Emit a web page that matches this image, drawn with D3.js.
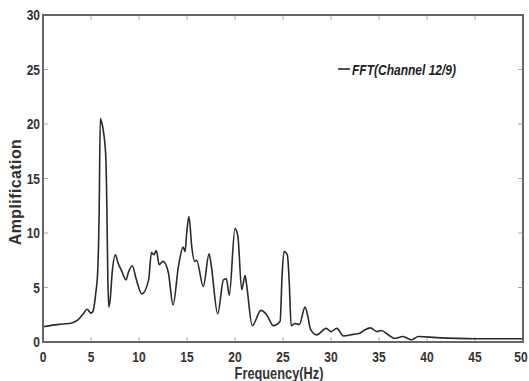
<!DOCTYPE html>
<html>
<head>
<meta charset="utf-8">
<script src="https://cdn.jsdelivr.net/npm/d3@7"></script>
<style>
  html, body { margin: 0; padding: 0; background: #fff; }
  svg { display: block; }
  .tick-label { font-family: "Liberation Sans", Arial, sans-serif; font-weight: bold; font-size: 15px; fill: #333; }
</style>
</head>
<body>
<div id="chart"></div>
<script>
// FFT spectrum, channel 12/9
const freqHz = [0, 1, 2, 3, 3.6, 4.2, 4.6, 5.0, 5.2, 5.5, 5.7, 5.85, 5.97, 6.1, 6.3, 6.55, 6.65, 6.75, 6.85, 7.0,
  7.2, 7.55, 7.8, 8.2, 8.65, 8.9, 9.3, 9.7, 10.3, 11.0, 11.3, 11.55, 11.8, 12.1, 12.5, 13.05, 13.55, 14.1, 14.6, 14.8,
  14.97, 15.2, 15.5, 15.8, 16.0, 16.7, 17.3, 17.5, 18.2, 18.8, 19.1, 19.4, 20.0, 20.3, 20.7, 21.05, 21.2, 21.8, 22.7, 23.3,
  24.0, 24.7, 24.9, 25.1, 25.45, 25.65, 25.85, 26.25, 26.7, 27.3, 27.6, 27.85, 28.5, 29.5, 30.0, 30.6, 31.3, 32.3, 33.0, 33.5,
  34.1, 34.8, 35.2, 36.0, 36.6, 37.5, 38.4, 39.1, 41, 45, 50];
const amplitude = [1.4, 1.55, 1.65, 1.75, 2.0, 2.6, 3.0, 2.65, 2.8, 4.5, 6.5, 12, 20.5, 20.2, 19.3, 16.8, 12.5, 6, 3.2, 3.9,
  6.3, 8.0, 7.3, 6.5, 5.7, 6.4, 7.0, 5.8, 4.4, 5.7, 8.2, 8.0, 8.4, 7.1, 7.4, 6.4, 3.4, 6.9, 8.7, 8.3,
  10, 11.5, 8.7, 7.4, 7.5, 5.1, 8.1, 7.2, 2.6, 5.7, 5.8, 4.3, 10.4, 9.7, 4.8, 6.1, 5.3, 1.5, 2.9, 2.5,
  1.5, 1.9, 6, 8.3, 8.0, 5.5, 1.5, 1.7, 1.6, 3.2, 2.3, 1.2, 0.65, 1.25, 0.95, 1.25, 0.55, 0.7, 0.8, 1.1,
  1.3, 0.95, 1.05, 0.64, 0.34, 0.5, 0.2, 0.5, 0.4, 0.3, 0.3];
const xTicks = [0, 5, 10, 15, 20, 25, 30, 35, 40, 45, 50];
const yTicks = [0, 5, 10, 15, 20, 25, 30];
const legendLabel = "FFT(Channel 12/9)";

const width = 529, height = 381;
const margin = { top: 15, right: 6, bottom: 39, left: 43 };
const narrow = 0.8; // horizontal squeeze to mimic a condensed face

const svg = d3.select('#chart').append('svg')
  .attr('width', width)
  .attr('height', height);

const x = d3.scaleLinear().domain([0, 50]).range([margin.left, width - margin.right]);
const y = d3.scaleLinear().domain([0, 30]).range([height - margin.bottom, margin.top]);

const axisColor = '#666';

// ── Ticks (inside, all four sides) ──────────────────────────
const tickLen = 5;
svg.append('g').selectAll('line').data(xTicks)
  .join('line')
  .attr('x1', d => x(d)).attr('x2', d => x(d))
  .attr('y1', y(0)).attr('y2', y(0) - tickLen)
  .attr('stroke', '#aaa').attr('stroke-width', 1);
svg.append('g').selectAll('line').data(xTicks)
  .join('line')
  .attr('x1', d => x(d)).attr('x2', d => x(d))
  .attr('y1', y(30)).attr('y2', y(30) + tickLen)
  .attr('stroke', '#aaa').attr('stroke-width', 1);
svg.append('g').selectAll('line').data(yTicks)
  .join('line')
  .attr('x1', x(0)).attr('x2', x(0) + tickLen)
  .attr('y1', d => y(d)).attr('y2', d => y(d))
  .attr('stroke', '#aaa').attr('stroke-width', 1);
svg.append('g').selectAll('line').data(yTicks)
  .join('line')
  .attr('x1', x(50)).attr('x2', x(50) - tickLen)
  .attr('y1', d => y(d)).attr('y2', d => y(d))
  .attr('stroke', '#aaa').attr('stroke-width', 1);

// ── Spectrum line ───────────────────────────────────────────
const points = freqHz.map((f, i) => [f, amplitude[i]]);
const line = d3.line()
  .x(d => x(d[0]))
  .y(d => y(d[1]))
  .curve(d3.curveMonotoneX);

svg.append('path')
  .datum(points)
  .attr('fill', 'none')
  .attr('stroke', '#2a2a2a')
  .attr('stroke-width', 1.6)
  .attr('stroke-linejoin', 'round')
  .attr('d', line);

// ── Box ─────────────────────────────────────────────────────
svg.append('rect')
  .attr('x', x(0)).attr('y', y(30))
  .attr('width', x(50) - x(0)).attr('height', y(0) - y(30))
  .attr('fill', 'none')
  .attr('stroke', axisColor)
  .attr('stroke-width', 2);

// ── Tick labels ─────────────────────────────────────────────
svg.append('g').selectAll('text').data(xTicks)
  .join('text')
  .attr('class', 'tick-label')
  .attr('transform', d => `translate(${Math.min(x(d), 521)},${y(0) + 20}) scale(${narrow},1)`)
  .attr('text-anchor', 'middle')
  .text(d => d);

svg.append('g').selectAll('text').data(yTicks)
  .join('text')
  .attr('class', 'tick-label')
  .attr('transform', d => `translate(${x(0) - 3},${y(d) + 5}) scale(${narrow},1)`)
  .attr('text-anchor', 'end')
  .text(d => d);

// ── Axis titles ─────────────────────────────────────────────
svg.append('text')
  .attr('transform', `translate(279,379) scale(${narrow},1)`)
  .attr('text-anchor', 'middle')
  .attr('font-family', '"Liberation Sans", Arial, sans-serif')
  .attr('font-weight', 'bold')
  .attr('font-size', 16)
  .attr('fill', '#333')
  .text('Frequency(Hz)');

svg.append('text')
  .attr('transform', 'translate(21,192) rotate(-90)')
  .attr('text-anchor', 'middle')
  .attr('font-family', '"Liberation Sans", Arial, sans-serif')
  .attr('font-weight', 'bold')
  .attr('font-size', 16)
  .attr('letter-spacing', 0.4)
  .attr('fill', '#333')
  .text('Amplification');

// ── Legend ──────────────────────────────────────────────────
svg.append('line')
  .attr('x1', 338).attr('x2', 350)
  .attr('y1', 69).attr('y2', 69)
  .attr('stroke', '#2a2a2a').attr('stroke-width', 1.6);
svg.append('text')
  .attr('transform', `translate(352,75) scale(${narrow},1)`)
  .attr('font-family', '"Liberation Sans", Arial, sans-serif')
  .attr('font-weight', 'bold')
  .attr('font-style', 'italic')
  .attr('font-size', 15)
  .attr('fill', '#222')
  .text(legendLabel);
</script>
</body>
</html>
